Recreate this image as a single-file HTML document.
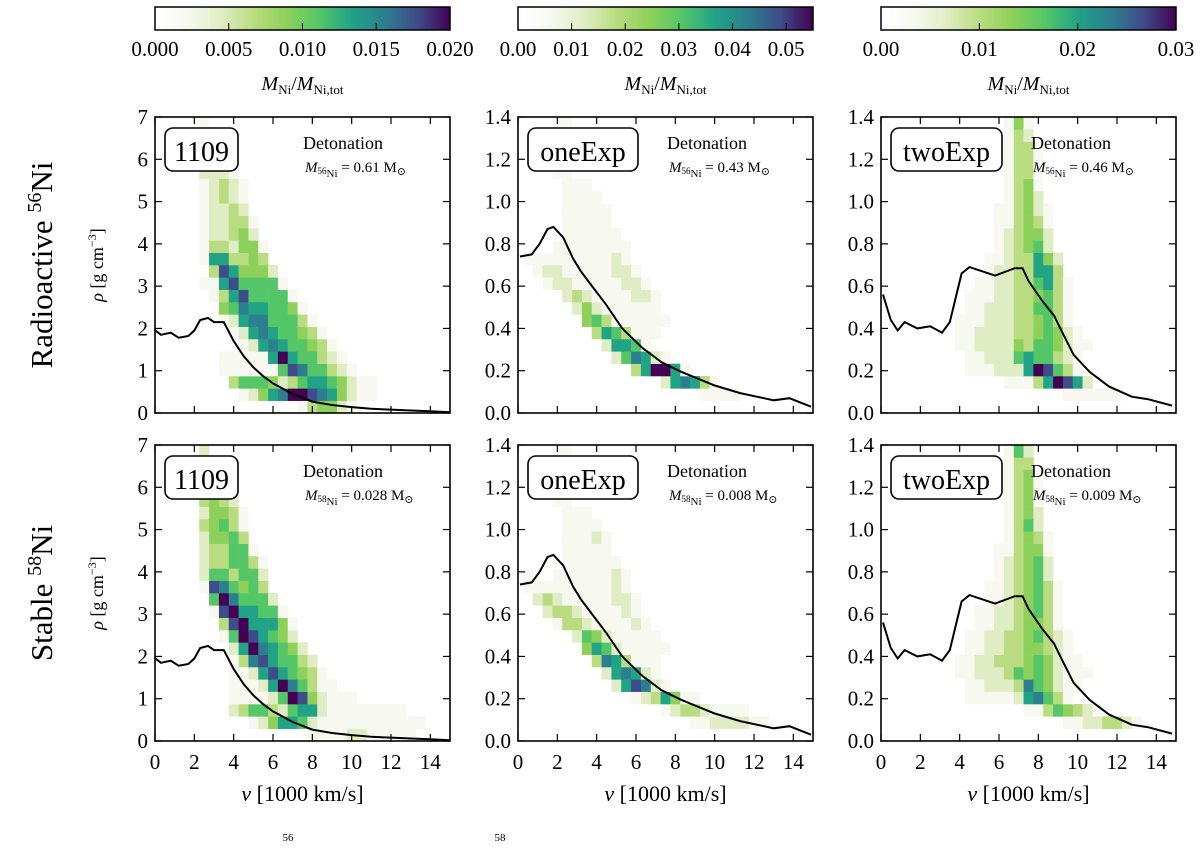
<!DOCTYPE html>
<html><head><meta charset="utf-8"><style>
body{margin:0;background:#fff;}
svg{display:block;font-family:"Liberation Serif","DejaVu Serif",serif;}
</style></head><body>
<svg id="fig" width="1200" height="848" viewBox="0 0 1200 848" xmlns="http://www.w3.org/2000/svg">
<defs>
<linearGradient id="cmapGrad" x1="0" x2="1" y1="0" y2="0">
<stop offset="0" stop-color="#ffffff"/><stop offset="0.111" stop-color="#f7f9f1"/><stop offset="0.222" stop-color="#e0edc4"/><stop offset="0.333" stop-color="#b9dc80"/><stop offset="0.444" stop-color="#8ed15a"/><stop offset="0.556" stop-color="#55c667"/><stop offset="0.667" stop-color="#21a386"/><stop offset="0.778" stop-color="#2c7f8e"/><stop offset="0.889" stop-color="#3e4c8a"/><stop offset="1" stop-color="#440154"/>
</linearGradient>
</defs>
</svg>
<script>
// ---- data ----
const colMax = [0.02, 0.055, 0.03];
const cbTicks1 = ["0.000","0.005","0.010","0.015","0.020"];
const cbTickVals1 = [0,0.005,0.01,0.015,0.02];
const cbTicks2 = ["0.00","0.01","0.02","0.03","0.04","0.05"];
const cbTickVals2 = [0,0.01,0.02,0.03,0.04,0.05];
const cbTicks3 = ["0.00","0.01","0.02","0.03"];
const cbTickVals3 = [0,0.01,0.02,0.03];
const xTicks = [0,2,4,6,8,10,12,14];
const yTicksA = [0,1,2,3,4,5,6,7];
const yTicksB = [0,0.2,0.4,0.6,0.8,1.0,1.2,1.4];
const modelNames = ["1109","oneExp","twoExp"];
const massLabels56 = ["0.61","0.43","0.46"];
const massLabels58 = ["0.028","0.008","0.009"];
// density profiles [v, rho]
const line1109 = [[0,1.96],[0.3,1.85],[0.8,1.9],[1.2,1.78],[1.7,1.82],[2,1.95],[2.3,2.2],[2.7,2.25],[3,2.15],[3.5,2.15],[4,1.7],[4.5,1.35],[5,1.08],[5.5,0.87],[6,0.7],[7,0.45],[8,0.27],[9,0.19],[10,0.14],[11,0.1],[12,0.08],[13,0.06],[14,0.04],[15,0.02]];
const lineOneExp = [[0.1,0.74],[0.7,0.75],[1.1,0.8],[1.5,0.87],[1.8,0.88],[2.3,0.83],[2.8,0.73],[3.2,0.67],[3.6,0.62],[4.5,0.51],[5.3,0.4],[6.3,0.31],[7.3,0.24],[8.3,0.195],[10,0.13],[11.3,0.094],[13,0.06],[13.8,0.07],[14.9,0.03]];
const lineTwoExp = [[0.1,0.56],[0.5,0.44],[0.85,0.39],[1.2,0.43],[1.85,0.4],[2.5,0.41],[3.1,0.38],[3.5,0.43],[4.1,0.66],[4.5,0.69],[5.8,0.65],[6.8,0.685],[7.2,0.685],[7.5,0.625],[8.2,0.53],[8.8,0.46],[9.2,0.385],[9.8,0.275],[10.6,0.195],[11.6,0.125],[12.75,0.077],[13.6,0.065],[14.8,0.035]];
// heatmaps: per density row (bottom up) start velocity-bin and levels (0-9 of colour max)
const p1Start = [15,9,8,7,7,9,8,7,7,6,5,6,5,5,5,5,5,5,5,5,5,5,5,5];
const p1Vals = [[1,3,4,4,2,1],[1,2,4,6,7,9,9,8,7,6,4,2,1,1],[3,5,5,5,4,2,3,5,6,6,5,4,2,1,1],[1,1,1,1,1,1,5,8,7,5,5,3,2,1],[1,1,1,1,1,6,9,6,5,5,3,2,1],[1,2,6,7,6,5,5,4,3,1],[1,2,6,7,6,5,5,4,3,1],[1,2,6,7,7,5,5,5,3,1],[4,5,7,6,6,5,5,4,1],[1,3,6,8,5,5,5,5,1],[1,1,6,8,5,5,5,5,1],[3,8,6,4,4,4,2],[1,6,6,3,3,4,3],[1,3,3,2,4,4,1],[1,2,2,3,4,2],[1,2,2,3,3,1],[1,2,2,3,2],[1,2,3,2,1],[1,2,3,2,1],[2,2,2,1],[2,2,2],[2,1,1],[2,1],[1]];
const p2Start = [0,19,15,12,10,9,8,7,6,5,3,2,1,4,5,5,5,5,5,4,4,4,4,4];
const p2Vals = [[],[1,1,1,1],[2,6,7,6,3,1],[3,6,9,9,6,1],[2,5,7,6,2,1],[2,6,6,5,1],[3,6,5,3,1,1,1],[4,5,3,1,1,1,1,1,1],[2,4,2,1,1,1,1,1,1],[2,3,2,1,1,1,1,2,2,1],[1,2,2,1,1,1,1,1,2,2,1],[1,2,2,1,1,1,1,1,2,2,1],[1,1,1,1,1,1,1,1,1,2,1],[1,1,1,1,1,1,1,1],[1,1,1,1,1,1],[1,1,1,1,1],[1,1,1,1,1],[1,1,1,1],[1,1,1],[1,1],[1,1],[1,1],[1,1],[1,1]];
const p3Start = [0,19,13,9,9,8,8,8,9,9,10,11,11,12,12,12,12,13,13,13,13,13,13,13];
const p3Vals = [[],[1,1,1,1,1,1],[1,1,1,3,6,9,8,6,2],[1,1,1,2,2,2,6,9,8,5,3,1],[1,1,2,2,2,5,6,5,5,3,2,1],[1,1,2,2,2,2,4,3,5,5,4,2,1,1],[1,1,2,2,2,2,3,3,4,5,4,2,1],[1,1,1,2,2,2,3,3,4,5,3,1],[1,1,2,2,2,3,3,5,5,3,1],[1,1,1,2,2,3,3,4,5,3,1],[1,1,2,2,3,3,5,6,3,1],[1,2,2,3,3,6,6,3],[1,1,2,3,3,6,4,2],[1,2,3,4,5,2],[1,2,3,4,4,2],[1,1,3,4,3,1],[1,1,3,4,2,1],[1,3,4,2],[1,3,4,1],[1,3,3,1],[1,3,3,1],[1,3,3,1],[1,3,2],[1,4,1]];
const p4Start = [16,10,8,8,8,8,8,8,7,7,6,6,5,5,5,5,5,5,5,5,5,5,5,5];
const p4Vals = [[1,1,1,1,2,2,1,1,1,1,1],[1,2,4,6,6,5,2,1,1,1,1,1,1,1,1,1,1,1],[2,3,5,5,3,2,5,6,6,2,1,1,1,1,1,1,1,1],[1,1,1,1,2,5,9,8,4,2,1,1,1],[1,1,1,2,6,9,7,5,3,1,1],[1,1,2,6,8,6,5,4,3,1],[1,3,7,8,6,5,5,3,2],[2,6,9,7,6,5,4,2],[1,5,9,8,6,5,4,2],[3,8,9,6,6,6,4,1],[1,8,9,6,6,5,5,1],[5,9,7,5,5,5,2],[1,8,7,5,4,5,3],[2,5,5,3,5,5,2],[2,3,3,5,5,3,1],[2,3,3,5,5,1],[2,4,4,5,3],[3,4,5,3,1],[2,4,4,3,1],[3,4,3,2],[4,3,2],[4,3,3],[4,2,1],[2]];
const p5Start = [0,18,15,12,10,9,8,7,6,4,3,2,1,1,5,5,5,5,5,4,4,4,4,4];
const p5Vals = [[],[1,1,2,2,2,2,1,1],[1,2,3,3,2,1,1,1,1],[1,2,3,6,4,1,1],[2,6,8,7,2,1],[2,6,7,6,2,1],[3,7,6,3,1,1,1],[4,6,5,2,1,1,1,1,1],[2,5,4,2,1,1,1,1,1],[1,3,3,2,1,1,1,1,2,1],[2,3,3,2,1,1,1,1,2,1],[2,3,2,1,1,1,1,1,2,2,1],[1,1,1,1,1,1,1,1,1,2,1],[1,0,0,1,1,1,1,1,1,2,1],[1,1,1,1,1,1],[1,1,1,1,1],[1,1,1,2,1],[1,1,1,1],[1,1,1],[1,1],[1,1],[1,1],[1,1],[1,1]];
const p6Start = [0,19,15,9,9,8,8,9,9,10,10,11,11,12,12,12,13,13,13,13,13,13,13,13];
const p6Vals = [[],[1,1,2,2,3,3,2,1],[1,1,3,5,4,3,2,1],[1,1,1,1,1,2,6,7,5,3,1],[1,1,2,2,2,3,7,5,4,2,1,1],[1,1,2,2,2,3,5,4,5,4,2,1,1,1],[1,1,2,2,3,3,3,4,5,4,2,1,1],[1,1,2,2,3,3,4,4,3,2,1],[1,1,2,2,3,3,4,5,3,2,1],[1,1,2,2,3,4,4,3,1],[1,1,2,2,3,4,5,3,1],[1,1,2,3,4,5,3,1],[1,1,2,3,4,5,3,1],[1,2,3,4,5,2],[1,2,3,4,5,2],[1,1,3,4,4,1],[1,3,4,3,1],[1,3,5,2],[1,3,4,2],[1,3,4,1],[1,3,4,1],[1,3,4,1],[1,3,3],[1,5,2]];

// ---- layout ----
const NS = "http://www.w3.org/2000/svg";
const svg = document.getElementById('fig');
const colX = [155, 518, 881];
const rowY = [117, 445];
const PW = 295, PH = 296;
const VMAX = 15, VBIN = 0.5, NROWS = 24;
const stops = ["#ffffff","#f7f9f1","#e0edc4","#b9dc80","#8ed15a","#55c667","#21a386","#2c7f8e","#3e4c8a","#440154"];

function mk(tag, attrs, parent){ const e=document.createElementNS(NS,tag); for(const k in attrs) e.setAttribute(k,attrs[k]); (parent||svg).appendChild(e); return e; }
function hexToRgb(h){return [parseInt(h.substr(1,2),16),parseInt(h.substr(3,2),16),parseInt(h.substr(5,2),16)];}
function cmap(f){ f=Math.max(0,Math.min(1,f)); const p=f*9; const i=Math.min(8,Math.floor(p)); const t=p-i; const a=hexToRgb(stops[i]), b=hexToRgb(stops[i+1]); return 'rgb('+a.map((x,j)=>Math.round(x+(b[j]-x)*t)).join(',')+')'; }

const panels = [
 {r:0,c:0,start:p1Start,vals:p1Vals,line:line1109,ymax:7,yt:yTicksA,ylab:v=>String(v),mass:massLabels56[0],iso:"56"},
 {r:0,c:1,start:p2Start,vals:p2Vals,line:lineOneExp,ymax:1.4,yt:yTicksB,ylab:v=>v.toFixed(1),mass:massLabels56[1],iso:"56"},
 {r:0,c:2,start:p3Start,vals:p3Vals,line:lineTwoExp,ymax:1.4,yt:yTicksB,ylab:v=>v.toFixed(1),mass:massLabels56[2],iso:"56"},
 {r:1,c:0,start:p4Start,vals:p4Vals,line:line1109,ymax:7,yt:yTicksA,ylab:v=>String(v),mass:massLabels58[0],iso:"58"},
 {r:1,c:1,start:p5Start,vals:p5Vals,line:lineOneExp,ymax:1.4,yt:yTicksB,ylab:v=>v.toFixed(1),mass:massLabels58[1],iso:"58"},
 {r:1,c:2,start:p6Start,vals:p6Vals,line:lineTwoExp,ymax:1.4,yt:yTicksB,ylab:v=>v.toFixed(1),mass:massLabels58[2],iso:"58"}
];

panels.forEach((p,pi)=>{
  const x0=colX[p.c], y0=rowY[p.r];
  const xs=v=>x0+v/VMAX*PW;
  const ys=r=>y0+PH-r/p.ymax*PH;
  const rbin=p.ymax/NROWS;
  const g=mk('g',{});
  
  
  mk('clipPath',{id:'clip'+pi},g);
  mk('rect',{x:x0,y:y0,width:PW,height:PH},g.lastChild);
  const hm=mk('g',{'clip-path':'url(#clip'+pi+')'},g);
  
  
  p.vals.forEach((row,k)=>{
    row.forEach((lv,j)=>{
      if(lv<=0) return;
      const ci=p.start[k]+j;
      const vL=ci*VBIN-VBIN/2, vR=vL+VBIN;
      const x1=xs(vL), x2=xs(vR), yt=ys((k+1)*rbin), yb=ys(k*rbin);
      const val=lv/9*colMax[p.c];
      const cell=mk('rect',{x:x1.toFixed(2),y:yt.toFixed(2),width:(x2-x1+0.3).toFixed(2),height:(yb-yt+0.3).toFixed(2),fill:cmap(val/colMax[p.c])},hm);
      
      
    });
  });
  const d=p.line.map((pt,i)=>(i?'L':'M')+xs(pt[0]).toFixed(1)+','+ys(pt[1]).toFixed(1)).join(' ');
  const ln=mk('path',{d:d,fill:'none',stroke:'#000','stroke-width':2,'clip-path':'url(#clip'+pi+')'},g);
  
  
  const fr=mk('rect',{x:x0,y:y0,width:PW,height:PH,fill:'none',stroke:'#000','stroke-width':1.6},g);
  
  
  xTicks.forEach(v=>{
    const x=xs(v);
    mk('line',{x1:x,x2:x,y1:y0+PH,y2:y0+PH-7,stroke:'#000','stroke-width':1.2},g);
    mk('line',{x1:x,x2:x,y1:y0,y2:y0+7,stroke:'#000','stroke-width':1.2},g);
    if(p.r===1){
      const t=mk('text',{x:x,y:y0+PH+28,'font-size':21,'text-anchor':'middle'},g);
      t.textContent=String(v);
      
      
    }
  });
  p.yt.forEach(v=>{
    const y=ys(v);
    mk('line',{x1:x0,x2:x0+7,y1:y,y2:y,stroke:'#000','stroke-width':1.2},g);
    mk('line',{x1:x0+PW,x2:x0+PW-7,y1:y,y2:y,stroke:'#000','stroke-width':1.2},g);
    const t=mk('text',{x:x0-7,y:y+7,'font-size':21,'text-anchor':'end'},g);
    t.textContent=p.ylab(v);
    
    
  });
  const bw=[73,110,111][p.c];
  const bx=mk('rect',{x:x0+10,y:y0+11,width:bw,height:43,rx:8,fill:'#fff',stroke:'#000','stroke-width':1.6},g);
  
  
  const bt=mk('text',{x:x0+10+bw/2,y:y0+44,'font-size':28,'text-anchor':'middle'},g);
  bt.textContent=modelNames[p.c];
  
  
  const dx=[148,149,150][p.c];
  const dt=mk('text',{x:x0+dx,y:y0+32,'font-size':18},g);
  dt.textContent='Detonation';
  
  
  const mt=mk('text',{x:x0+dx+2,y:y0+55,'font-size':15},g);
  
  
  mt.innerHTML='<tspan font-style="italic">M</tspan><tspan font-size="9" dy="2">'+p.iso+'</tspan><tspan font-size="11" dy="3">Ni</tspan><tspan dy="-5"> = '+p.mass+' M</tspan><tspan font-size="11" dy="3">⊙</tspan>';
});

const cbT=[cbTicks1,cbTicks2,cbTicks3], cbV=[cbTickVals1,cbTickVals2,cbTickVals3];
colX.forEach((x0,c)=>{
  const g=mk('g',{});
  
  
  mk('rect',{x:x0,y:7,width:PW,height:23,fill:'url(#cmapGrad)',stroke:'#000','stroke-width':1.5},g);
  cbV[c].forEach((v,i)=>{
    const x=x0+v/colMax[c]*PW;
    mk('line',{x1:x,x2:x,y1:30,y2:23,stroke:'#000','stroke-width':1},g);
    const t=mk('text',{x:x,y:56,'font-size':21,'text-anchor':'middle'},g);
    t.textContent=cbT[c][i];
    
    
  });
  const l=mk('text',{x:x0+PW/2,y:90,'font-size':20,'text-anchor':'middle'},g);
  
  
  l.innerHTML='<tspan font-style="italic">M</tspan><tspan font-size="13" dy="4">Ni</tspan><tspan dy="-4">/</tspan><tspan font-style="italic">M</tspan><tspan font-size="13" dy="4">Ni,tot</tspan>';
  const xt=mk('text',{x:x0+PW/2,y:801,'font-size':22,'text-anchor':'middle'});
  
  
  xt.innerHTML='<tspan font-style="italic">v</tspan> [1000 km/s]';
});

[0,1].forEach(r=>{
  const cy=rowY[r]+PH/2;
  const yt=mk('text',{x:0,y:0,'font-size':18,'text-anchor':'middle',transform:'translate(103,'+cy+') rotate(-90)'});
  
  
  yt.innerHTML='<tspan font-style="italic">ρ</tspan> [g cm<tspan font-size="12" dy="-7">−3</tspan><tspan dy="7">]</tspan>';
  const rl=mk('text',{x:0,y:0,'font-size':31,'text-anchor':'middle',transform:'translate(52,'+cy+') rotate(-90)'});
  
  
  rl.innerHTML=(r===0?'Radioactive ':'Stable ')+'<tspan font-size="20" dy="-11">'+(r===0?'56':'58')+'</tspan><tspan dy="11">Ni</tspan>';
});
const s1=mk('text',{x:288,y:841,'font-size':11,'text-anchor':'middle'}); s1.textContent='56';


const s2=mk('text',{x:500,y:841,'font-size':11,'text-anchor':'middle'}); s2.textContent='58';


</script>
</body></html>
